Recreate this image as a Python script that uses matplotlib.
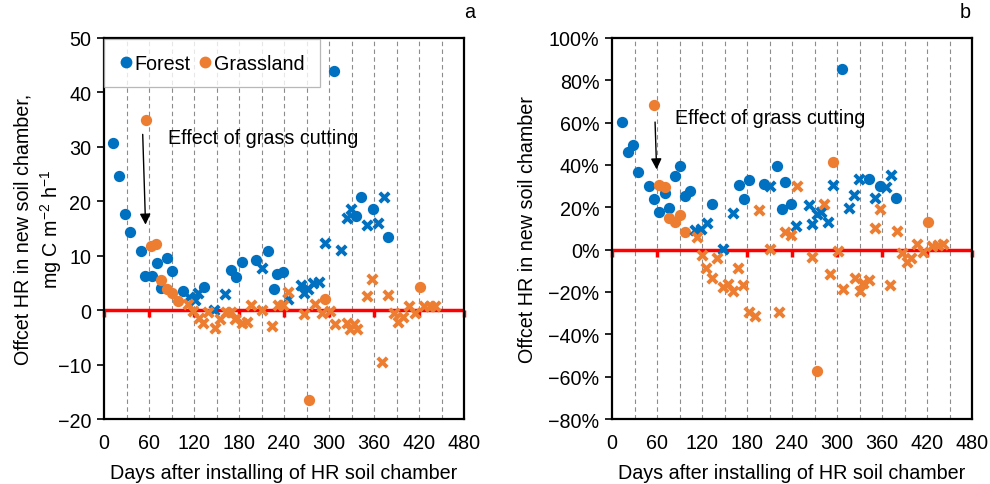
import numpy as np
import matplotlib
matplotlib.use("Agg")
import matplotlib.pyplot as plt
from matplotlib.ticker import FuncFormatter, MultipleLocator
from matplotlib.lines import Line2D

plt.rcParams['font.family'] = ['Liberation Sans', 'DejaVu Sans']
plt.rcParams['mathtext.fontset'] = 'custom'
plt.rcParams['mathtext.rm'] = 'Liberation Sans'
plt.rcParams['mathtext.it'] = 'Liberation Sans:italic'
plt.rcParams['font.size'] = 14

BLUE = '#0070C0'
ORANGE = '#ED7D31'
FS = 14.2

# ---- panel a: offset HR, mg C m-2 h-1 ----
forest_circ_day_a = [12, 20, 28, 35, 49, 55, 64, 70, 76, 84, 91, 105, 133, 169, 176, 184,
                     203, 219, 227, 230, 238, 307, 336, 343, 358, 378]
forest_circ_val_a = [30.8, 24.7, 17.6, 14.3, 10.8, 6.2, 6.2, 8.6, 4.0, 9.6, 7.2, 3.5, 4.2, 7.4, 6.1, 8.8,
                     9.3, 10.8, 3.9, 6.7, 7.0, 43.9, 17.3, 20.7, 18.6, 13.5]
grass_circ_day_a = [56, 62, 69, 76, 84, 91, 98, 273, 295, 421]
grass_circ_val_a = [35.0, 11.7, 12.1, 5.5, 3.9, 3.1, 1.7, -16.5, 2.0, 4.3]
forest_x_day_a = [113, 121, 125, 147, 161, 210, 245, 262, 267, 272, 279, 287, 294, 316, 324, 329,
                  350, 365, 373]
forest_x_val_a = [2.4, 1.8, 3.2, 0.1, 3.0, 7.7, 2.0, 4.7, 3.1, 3.9, 4.9, 5.1, 12.3, 11.0, 17.0, 18.6,
                  15.7, 16.1, 20.7]
grass_x_day_a = [112, 119, 127, 132, 139, 148, 154, 163, 169, 175, 184, 190, 196, 211, 224, 232,
                 238, 245, 266, 281, 290, 301, 308, 324, 328, 333, 337, 351, 357, 371, 378, 386,
                 392, 399, 407, 415, 426, 434, 441]
grass_x_val_a = [1.1, -0.2, -1.5, -2.4, -0.4, -3.2, -1.6, -0.4, -0.4, -1.7, -2.3, -2.2, 0.9, 0.0, -2.9, 1.0,
                 1.0, 3.3, -0.7, 1.2, -0.6, -0.1, -2.5, -2.3, -3.4, -2.6, -3.4, 2.6, 5.8, -9.5, 2.8, -0.6,
                 -2.2, -1.3, 0.8, -0.6, 0.8, 0.8, 0.8]

# ---- panel b: offset HR, % ----
forest_circ_day_b = [13, 21, 28, 35, 49, 56, 63, 70, 76, 84, 91, 97, 104, 133, 169, 176, 183,
                     202, 220, 226, 231, 238, 307, 342, 357, 378]
forest_circ_val_b = [60.1, 46.3, 49.4, 36.6, 30.3, 24.0, 18.0, 26.8, 19.6, 34.7, 39.7, 25.2, 27.9, 21.6,
                     30.7, 24.0, 33.1, 30.9, 39.4, 19.3, 32.2, 21.6, 85.2, 33.4, 29.9, 24.5]
grass_circ_day_b = [56, 63, 70, 76, 84, 91, 97, 273, 294, 421]
grass_circ_val_b = [68.2, 30.7, 29.8, 15.1, 13.3, 16.5, 8.3, -57.2, 41.6, 13.0]
forest_x_day_b = [111, 118, 126, 148, 161, 210, 245, 262, 267, 273, 279, 288, 295, 316, 323, 329,
                  351, 365, 372]
forest_x_val_b = [9.1, 9.9, 12.4, 0.3, 17.3, 30.2, 11.4, 21.2, 11.9, 16.8, 18.0, 13.1, 30.4, 19.9, 25.6, 33.2,
                  24.3, 29.8, 35.3]
grass_x_day_b = [113, 120, 125, 133, 140, 148, 154, 161, 168, 175, 183, 190, 196, 211, 223, 231,
                 238, 246, 266, 282, 291, 301, 308, 324, 330, 335, 343, 351, 357, 370, 380, 386,
                 393, 399, 406, 414, 427, 434, 441]
grass_x_val_b = [6.0, -2.4, -8.5, -13.3, -3.9, -17.6, -16.0, -19.6, -8.6, -16.8, -29.6, -31.2, 18.9, 0.2,
                 -29.3, 8.3, 7.1, 30.0, -3.5, 21.6, -11.6, -0.6, -18.8, -13.6, -19.6, -15.7, -14.4,
                 10.2, 19.3, -16.8, 8.8, -1.6, -5.8, -3.9, 2.5, -1.1, 1.6, 2.0, 2.8]

x_ticks = list(range(0, 481, 60))
month_lines = list(range(30, 451, 30))


def draw_panel(ax, fc_d, fc_v, gc_d, gc_v, fx_d, fx_v, gx_d, gx_v):
    for d in month_lines:
        ax.axvline(d, color='#8c8c8c', lw=0.8, ls=(0, (4, 3)), zorder=0)
    ax.axhline(0, color='red', lw=2.5, zorder=1)
    # red tick marks on the zero axis
    ax.plot(x_ticks, np.zeros(len(x_ticks)), ls='none', marker=3, ms=5, mew=2.5,
            color='red', zorder=1, clip_on=False)
    ax.scatter(fc_d, fc_v, s=66, color=BLUE, zorder=3, linewidths=0)
    ax.scatter(gc_d, gc_v, s=66, color=ORANGE, zorder=3, linewidths=0)
    ax.scatter(fx_d, fx_v, s=46, marker='x', color=BLUE, zorder=4, linewidths=2.8)
    ax.scatter(gx_d, gx_v, s=46, marker='x', color=ORANGE, zorder=4, linewidths=2.8)
    ax.set_xlim(0, 480)
    ax.set_xticks(x_ticks)
    ax.tick_params(axis='x', length=0, pad=10, labelsize=FS)
    ax.tick_params(axis='y', direction='out', length=5, width=1.2, labelsize=FS, pad=4)
    ax.set_xlabel('Days after installing of HR soil chamber', fontsize=FS, labelpad=8)
    for sp in ax.spines.values():
        sp.set_linewidth(1.6)
        sp.set_color('black')


fig = plt.figure(figsize=(9.9, 4.85), dpi=100)
ax1 = fig.add_axes([104 / 990, 1 - 420 / 485, 360 / 990, 381 / 485])
ax2 = fig.add_axes([612 / 990, 1 - 420 / 485, 360 / 990, 381 / 485])

draw_panel(ax1, forest_circ_day_a, forest_circ_val_a, grass_circ_day_a, grass_circ_val_a,
           forest_x_day_a, forest_x_val_a, grass_x_day_a, grass_x_val_a)
ax1.set_ylim(-20, 50)
ax1.yaxis.set_major_locator(MultipleLocator(10))
ax1.yaxis.set_major_formatter(FuncFormatter(lambda v, p: f'{v:.0f}'.replace('-', '\u2212')))
ax1.set_ylabel('Offcet HR in new soil chamber,\nmg C m$^{-2}$ h$^{-1}$', fontsize=FS, labelpad=-4,
               linespacing=1.25)
ax1.annotate('', xy=(55.5, 15.2), xytext=(51.5, 32.8),
             arrowprops=dict(arrowstyle='-|>', color='black', lw=1.0, mutation_scale=16))
ax1.text(86, 31.8, 'Effect of grass cutting', fontsize=FS, va='center', ha='left')
handles = [Line2D([], [], ls='none', marker='o', ms=8.5, color=BLUE, mec='none'),
           Line2D([], [], ls='none', marker='o', ms=8.5, color=ORANGE, mec='none')]
leg = ax1.legend(handles, ['Forest', 'Grassland'], loc='upper left', bbox_to_anchor=(0.0, 0.998),
                 ncol=2, frameon=True, fancybox=False, borderpad=0.75, handletextpad=0.1,
                 columnspacing=0.4, handlelength=0.7, fontsize=FS, borderaxespad=0)
leg.get_frame().set_edgecolor('#a6a6a6')
leg.get_frame().set_linewidth(0.9)
ax1.text(1.015, 1.045, 'a', transform=ax1.transAxes, fontsize=FS, ha='center', va='bottom')

draw_panel(ax2, forest_circ_day_b, forest_circ_val_b, grass_circ_day_b, grass_circ_val_b,
           forest_x_day_b, forest_x_val_b, grass_x_day_b, grass_x_val_b)
ax2.set_ylim(-80, 100)
ax2.yaxis.set_major_locator(MultipleLocator(20))
ax2.yaxis.set_major_formatter(FuncFormatter(lambda v, p: f'{v:.0f}%'.replace('-', '\u2212')))
ax2.set_ylabel('Offcet HR in new soil chamber', fontsize=FS, labelpad=8)
ax2.annotate('', xy=(59.6, 36.6), xytext=(57.3, 61.6),
             arrowprops=dict(arrowstyle='-|>', color='black', lw=1.0, mutation_scale=16))
ax2.text(84, 62.6, 'Effect of grass cutting', fontsize=FS, va='center', ha='left')
ax2.text(0.98, 1.045, 'b', transform=ax2.transAxes, fontsize=FS, ha='center', va='bottom')

fig.savefig('out.png', dpi=100)
